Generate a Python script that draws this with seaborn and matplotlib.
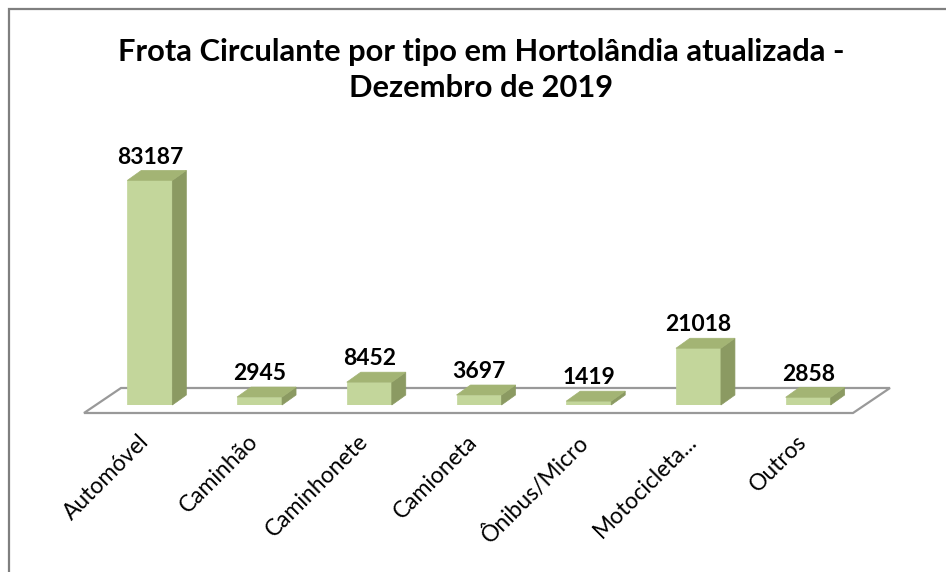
import matplotlib
matplotlib.use("Agg")
import matplotlib.pyplot as plt
import matplotlib.transforms as mtransforms
from matplotlib.patches import Polygon, Rectangle
import numpy as np
import pandas as pd
import seaborn as sns

# dados da frota
categorias = ["Automóvel", "Caminhão", "Caminhonete", "Camioneta",
              "Ônibus/Micro", "Motocicleta...", "Outros"]
valores = [83187, 2945, 8452, 3697, 1419, 21018, 2858]

titulo = "Frota Circulante por tipo em Hortolândia atualizada -\nDezembro de 2019"

cor_frente = "#c3d69b"
cor_lado = "#8b9a62"
cor_topo = "#a3b474"

W, H = 946, 572
fig = plt.figure(figsize=(W / 100, H / 100), dpi=100)
sns.set_style("white")
plt.rcParams["font.family"] = ["Lato", "DejaVu Sans"]

# eixo posicionado em pixels (esquerda, base, largura, altura)
ax_l, ax_b, ax_w, ax_h = 84, 167, 790, 270
ax = fig.add_axes([ax_l / W, ax_b / H, ax_w / W, ax_h / H])

df = pd.DataFrame({"tipo": categorias, "qtd": valores})
sns.barplot(data=df, x="tipo", y="qtd", color=cor_frente, saturation=1,
            width=0.41, ax=ax, zorder=3, edgecolor=cor_frente, linewidth=0.5)

xmin, xmax = -0.6, 6.6
ymax = 100000
ax.set_xlim(xmin, xmax)
ax.set_ylim(0, ymax)

# conversao px -> dados
px_x = (xmax - xmin) / ax_w
px_y = ymax / ax_h

# chao (plano da base)
dx_f, dy_f = 37 * px_x, 25 * px_y
f0x = xmin + 0.0 * px_x
f1x = xmin + 769 * px_x
fy = -8 * px_y
chao = Polygon([(f0x, fy), (f1x, fy), (f1x + dx_f, fy + dy_f), (f0x + dx_f, fy + dy_f)],
               closed=True, facecolor="white", edgecolor="#999999", linewidth=1.6,
               clip_on=False, zorder=1)
ax.add_patch(chao)

# faces laterais e topo das barras
dx, dy = 14 * px_x, 10 * px_y
for p, v in zip(ax.patches[:len(valores)], valores):
    x0 = p.get_x()
    x1 = x0 + p.get_width()
    h = p.get_height()
    lado = Polygon([(x1, 0), (x1 + dx, dy), (x1 + dx, h + dy), (x1, h)],
                   closed=True, facecolor=cor_lado, edgecolor=cor_lado,
                   linewidth=0.5, clip_on=False, zorder=3)
    topo = Polygon([(x0, h), (x1, h), (x1 + dx, h + dy), (x0 + dx, h + dy)],
                   closed=True, facecolor=cor_topo, edgecolor=cor_topo,
                   linewidth=0.5, clip_on=False, zorder=3)
    ax.add_patch(lado)
    ax.add_patch(topo)
    ax.annotate(f"{v}", xy=(x0 + p.get_width() / 2, h + dy),
                xytext=(0, 2), textcoords="offset points",
                ha="center", va="bottom", fontsize=16.5, fontweight="bold",
                color="black", zorder=5)

ax.set_xlabel("")
ax.set_ylabel("")
ax.set_yticks([])
ax.tick_params(axis="x", length=0, pad=20, labelcolor="black")
ax.set_xticks(range(len(categorias)))
ax.set_xticklabels(categorias, rotation=45, ha="right", rotation_mode="anchor",
                   fontsize=16.5)
desloc = mtransforms.ScaledTranslation(-12 / 100, 2 / 100, fig.dpi_scale_trans)
for lbl in ax.get_xticklabels():
    lbl.set_transform(lbl.get_transform() + desloc)
sns.despine(ax=ax, left=True, bottom=True)
ax.patch.set_alpha(0)

fig.text(481 / W, 1 - 70 / H, titulo, ha="center", va="center", color="black",
         fontsize=22.2, fontweight="bold", linespacing=1.35)

# borda do grafico
fig.patches.append(Rectangle((9 / W, -0.1), 1.2, 1 - 9 / H + 0.1,
                             transform=fig.transFigure, facecolor="none",
                             edgecolor="#7f7f7f", linewidth=1.6))

fig.savefig("out.png", dpi=100)
